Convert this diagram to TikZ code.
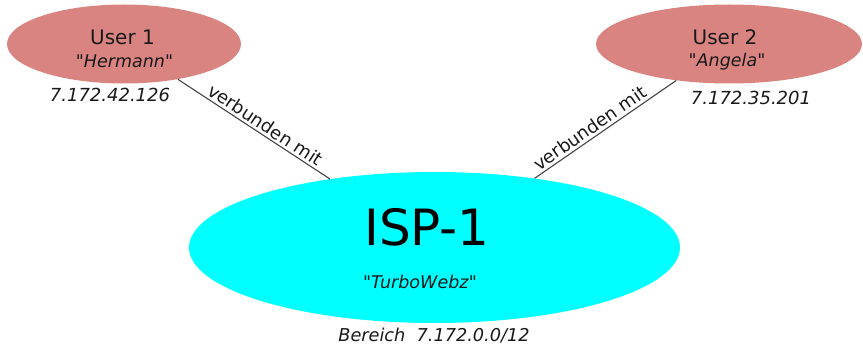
\documentclass[tikz,border=0pt]{standalone}
\usepackage{fontspec}
\setmainfont{DejaVu Sans}[Ligatures=TeXOff]
\usetikzlibrary{shapes.geometric}
\definecolor{userfill}{RGB}{218,132,130}
\definecolor{ispfill}{RGB}{0,255,255}
\definecolor{linegray}{RGB}{68,68,68}
\definecolor{txt}{RGB}{25,25,25}
\newcommand{\dq}{\symbol{34}}
\tikzset{
  userell/.style={ellipse, fill=userfill, draw=none, inner sep=0pt},
  ispell/.style={ellipse, fill=ispfill, draw=none, inner sep=0pt, minimum width=491pt, minimum height=151pt},
  lbl/.style={text=txt, inner sep=0pt, anchor=base},
  conn/.style={draw=linegray, line width=1.1pt},
  edgelbl/.style={text=txt, font=\fontsize{18}{21}\selectfont, sloped, above, inner sep=2.5pt}
}
\begin{document}
\begin{tikzpicture}[x=1pt,y=-1pt]
\useasboundingbox (0,0) rectangle (863,345);
\node[userell, minimum width=234pt, minimum height=79pt] (u1) at (124,44) {};
\node[userell, minimum width=266pt, minimum height=79pt] (u2) at (729,44) {};
\node[ispell] (isp) at (434.5,247.5) {};
\draw[conn] (u1) -- node[edgelbl, pos=0.54] (l1) {verbunden mit} (isp);
\draw[conn] (isp) -- node[edgelbl, pos=0.43] (l2) {verbunden mit} (u2);
\node[lbl, font=\fontsize{20}{24}\selectfont] (u1name) at (122.5,45) {User 1};
\node[lbl, font=\fontsize{17.5}{21}\selectfont] (u1nick) at (124.5,68) {\dq\textit{Hermann}\dq};
\node[lbl, font=\fontsize{18}{21}\selectfont\itshape] (u1ip) at (110,102) {7.172.42.126};
\node[lbl, font=\fontsize{20}{24}\selectfont] (u2name) at (725,45) {User 2};
\node[lbl, font=\fontsize{17.5}{21}\selectfont] (u2nick) at (727,67) {\dq\textit{Angela}\dq};
\node[lbl, font=\fontsize{18}{21}\selectfont\itshape] (u2ip) at (751,104) {7.172.35.201};
\node[lbl, font=\fontsize{50}{60}\selectfont, text=black] (ispname) at (427,245) {ISP-1};
\node[lbl, font=\fontsize{17.5}{21}\selectfont] (ispnick) at (420,288) {\dq\textit{TurboWebz}\dq};
\node[lbl, font=\fontsize{17.7}{21}\selectfont\itshape] (isprange) at (434,341) {Bereich\ \ 7.172.0.0/12};
\end{tikzpicture}
\end{document}
